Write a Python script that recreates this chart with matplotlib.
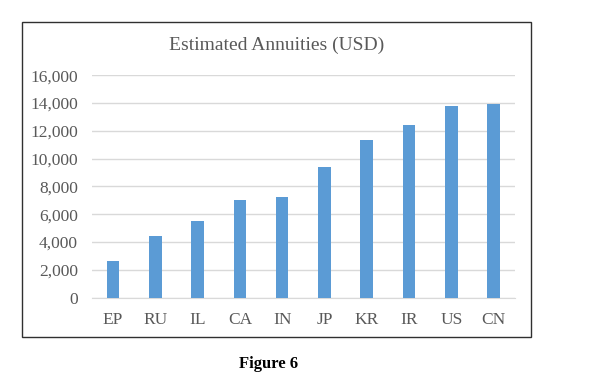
import matplotlib
matplotlib.use("Agg")
import matplotlib.pyplot as plt
from matplotlib.patches import Rectangle
from matplotlib.ticker import FuncFormatter

# Data
countries = ['EP', 'RU', 'IL', 'CA', 'IN', 'JP', 'KR', 'IR', 'US', 'CN']
annuities = [2660, 4410, 5520, 7000, 7240, 9430, 11350, 12450, 13790, 13960]
y_ticks = [0, 2000, 4000, 6000, 8000, 10000, 12000, 14000, 16000]

plt.rcParams['font.family'] = ['Liberation Serif', 'DejaVu Serif']
gray = '#595959'

fig = plt.figure(figsize=(6, 3.82), dpi=100)
ax = fig.add_axes([0.153, 0.2207, 0.705, 0.5823])

x = range(len(countries))
ax.bar(x, annuities, width=0.3, color='#5B9BD5', zorder=3)

ax.set_xlim(-0.5, len(countries) - 0.5)
ax.set_ylim(0, 16000)
ax.set_yticks(y_ticks)
ax.yaxis.set_major_formatter(FuncFormatter(lambda v, p: f'{int(v):,}'))
ax.set_xticks(list(x))
ax.set_xticklabels(countries)

ax.grid(axis='y', color='#D9D9D9', linewidth=1, zorder=0)
for s in ['top', 'right', 'left']:
    ax.spines[s].set_visible(False)
ax.spines['bottom'].set_color('#D9D9D9')
ax.tick_params(axis='both', length=0, labelsize=12.5, labelcolor=gray)
ax.tick_params(axis='y', pad=10)
ax.tick_params(axis='x', pad=10.5)

fig.text(277 / 600, 1 - 45 / 382, 'Estimated Annuities (USD)', ha='center',
         va='center', fontsize=14, color=gray)

# chart border
fig.patches.append(Rectangle((22 / 600, 45 / 382), 509 / 600, 315 / 382,
                             transform=fig.transFigure, fill=False,
                             edgecolor='#303030', linewidth=1.0))

fig.text(269 / 600, 1 - 364 / 382, 'Figure 6', ha='center', va='center',
         fontsize=12, fontweight='bold', color='black')

plt.savefig('out.png', dpi=100)
